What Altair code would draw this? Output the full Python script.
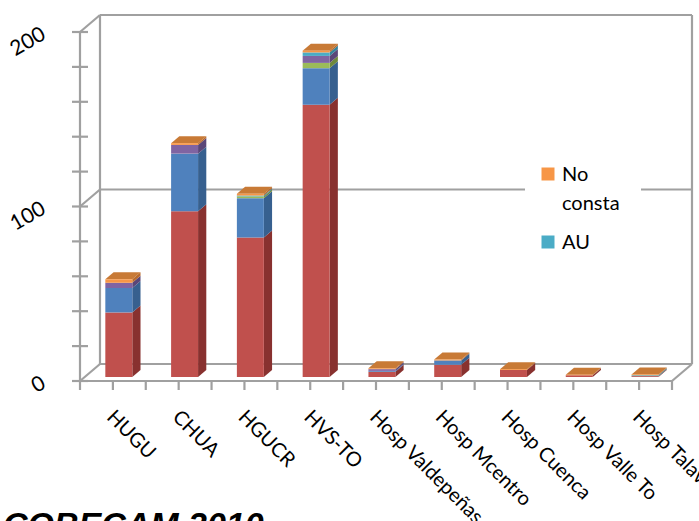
import altair as alt
import pandas as pd

# ---------------- data ----------------
categories = ["HUGU", "CHUA", "HGUCR", "HVS-TO", "Hosp Valdepeñas",
              "Hosp Mcentro", "Hosp Cuenca", "Hosp Valle To", "Hosp Talavera"]
series = ["Serie 1", "Serie 2", "Serie 3", "Serie 4", "AU", "No consta"]
serie1 = [37, 95, 80, 156, 3, 7, 4, 1, 0.5]
serie2 = [14, 33, 22.5, 21, 0.5, 2.5, 0, 0, 0]
serie3 = [0, 0, 1, 3, 0, 0, 0, 0, 0]
serie4 = [3, 5, 0, 4, 1, 0, 0, 0, 0]
au = [0, 0, 0.5, 2, 0, 0, 0, 0, 0.5]
no_consta = [2, 1, 1, 1, 0.5, 0.5, 0.5, 0.3, 0.5]
values = [serie1, serie2, serie3, serie4, au, no_consta]

y_tick_values = [0, 20, 40, 60, 80, 100, 120, 140, 160, 180, 200]
y_label_values = [0, 100, 200]
y_label_texts = ["0", "100", "200"]
grid_values = [0, 100, 200]
legend_labels = ["No\nconsta", "AU"]
title_text = "COBECAM 2010"

# ---------------- styles ----------------
front_colors = ["#C0504D", "#4F81BD", "#9BBB59", "#8064A2", "#4BACC6", "#F79646"]
side_colors = ["#88312F", "#37608F", "#6F8A3C", "#5A4678", "#34829A", "#B86A2C"]
top_colors = ["#A8423F", "#4470A8", "#86A44C", "#6E5590", "#3F98B0", "#C87A36"]
legend_colors = ["#F79646", "#4BACC6"]
LINE = "#A0A0A0"
LW = 2.2
FONT = "Lato"

X0, X1, X2 = 0.385, 0.795, 0.92   # bar front-left, front-right, back-right (category units)
DY = 4.0                          # depth of the top face (value units)
BX, BY = 20, -17                  # back wall offset in pixels

front_rows, side_rows, top_rows = [], [], []
for i, cat in enumerate(categories):
    base = 0.0
    top_k = 0
    for k, s in enumerate(series):
        v = values[k][i]
        if v <= 0:
            continue
        y0, y1 = base, base + v
        front_rows.append(dict(x=i + X0, x2=i + X1, y=y0, y2=y1, c=front_colors[k]))
        key = f"{i}-{k}"
        side_rows.append(dict(key=key, x=i + X1, lo=y0, hi=y1, c=side_colors[k]))
        side_rows.append(dict(key=key, x=i + X2, lo=y0 + DY, hi=y1 + DY, c=side_colors[k]))
        base = y1
        top_k = k
    top_rows.append(dict(key=str(i), y=base, xa=i + X0, xb=i + X1, c=top_colors[top_k]))
    top_rows.append(dict(key=str(i), y=base + DY, xa=i + X0 + (X2 - X1), xb=i + X2, c=top_colors[top_k]))

front_df = pd.DataFrame(front_rows)
side_df = pd.DataFrame(side_rows)
top_df = pd.DataFrame(top_rows)
grid_df = pd.DataFrame({"g": grid_values})
ytick_df = pd.DataFrame({"t": y_tick_values})
xtick_df = pd.DataFrame({"p": [j * 0.5 for j in range(2 * len(categories) + 1)]})
ylab_df = pd.DataFrame({"v": y_label_values, "t": y_label_texts})
xlab_df = pd.DataFrame({"p": [i + 0.5 for i in range(len(categories))], "t": categories})
one = pd.DataFrame({"a": [1]})

n = len(categories)
xs = alt.Scale(domain=[0, n], nice=False, zero=False)
ys = alt.Scale(domain=[0, 200], nice=False)

def rule(data, **kw):
    return alt.Chart(data).mark_rule(color=LINE, strokeWidth=LW, **kw)

layers = []

# back wall gridlines
layers.append(rule(grid_df, xOffset=BX, x2Offset=BX, yOffset=BY).encode(
    x=alt.datum(0), x2=alt.datum(n),
    y=alt.Y("g:Q", scale=ys, axis=None)))
# diagonals at left for gridlines
layers.append(rule(grid_df, x2Offset=BX, y2Offset=BY).encode(
    x=alt.datum(0), x2=alt.datum(0), y=alt.Y("g:Q", scale=ys, axis=None), y2="g:Q"))
# back left and right verticals
layers.append(rule(one, xOffset=BX, yOffset=BY, y2Offset=BY).encode(
    x=alt.datum(0), y=alt.datum(0), y2=alt.datum(200)))
layers.append(rule(one, xOffset=BX, yOffset=BY, y2Offset=BY).encode(
    x=alt.datum(n), y=alt.datum(0), y2=alt.datum(200)))
# right floor diagonal
layers.append(rule(one, x2Offset=BX, y2Offset=BY).encode(
    x=alt.datum(n), x2=alt.datum(n), y=alt.datum(0), y2=alt.datum(0)))

# bars: top faces, side faces, front faces
layers.append(alt.Chart(top_df).mark_area(orient="horizontal", yOffset=-4, opacity=1).encode(
    y=alt.Y("y:Q", scale=ys, axis=None), x=alt.X("xa:Q", scale=xs, axis=None), x2="xb:Q",
    detail="key:N", color=alt.Color("c:N", scale=None)))
layers.append(alt.Chart(side_df).mark_area(orient="vertical", yOffset=-4, y2Offset=-4, opacity=1).encode(
    x=alt.X("x:Q", scale=xs, axis=None), y=alt.Y("lo:Q", scale=ys, axis=None), y2="hi:Q",
    detail="key:N", color=alt.Color("c:N", scale=None)))
layers.append(alt.Chart(front_df).mark_rect(yOffset=-4, y2Offset=-4, strokeWidth=0).encode(
    x=alt.X("x:Q", scale=xs, axis=None), x2="x2:Q",
    y=alt.Y("y:Q", scale=ys, axis=None), y2="y2:Q",
    color=alt.Color("c:N", scale=None)))

# front axes
layers.append(rule(one).encode(x=alt.datum(0), y=alt.datum(0), y2=alt.datum(200)))
layers.append(rule(one).encode(x=alt.datum(0), x2=alt.datum(n), y=alt.datum(0)))
layers.append(rule(ytick_df, xOffset=-8, x2Offset=8).encode(
    x=alt.datum(0), x2=alt.datum(0), y=alt.Y("t:Q", scale=ys, axis=None)))
layers.append(rule(xtick_df, y2Offset=9).encode(
    x=alt.X("p:Q", scale=xs, axis=None), y=alt.datum(0), y2=alt.datum(0)))

# axis labels
layers.append(alt.Chart(ylab_df).mark_text(
    align="right", baseline="middle", angle=330, fontSize=21, font=FONT,
    color="black", xOffset=-36, yOffset=1).encode(
    x=alt.datum(0), y=alt.Y("v:Q", scale=ys, axis=None), text="t:N"))
layers.append(alt.Chart(xlab_df).mark_text(
    align="left", baseline="middle", angle=45, fontSize=20, font=FONT,
    color="black", xOffset=-3, yOffset=33).encode(
    x=alt.X("p:Q", scale=xs, axis=None), y=alt.datum(0), text="t:N"))

# legend (partly visible)
layers.append(alt.Chart(one).mark_rect(color="white").encode(
    x=alt.value(445), x2=alt.value(561), y=alt.value(118), y2=alt.value(232)))
legend_sq_y = [142, 210]
legend_tx_y = [149, 217]
for lab, col, sy, ty in zip(legend_labels, legend_colors, legend_sq_y, legend_tx_y):
    layers.append(alt.Chart(one).mark_square(size=169, color=col, opacity=1, filled=True).encode(
        x=alt.value(468), y=alt.value(sy)))
    layers.append(alt.Chart(one).mark_text(
        text=lab, lineBreak="\n", lineHeight=29, align="left", baseline="alphabetic",
        fontSize=20, font=FONT, color="black").encode(
        x=alt.value(482), y=alt.value(ty)))

# title (cut at bottom)
layers.append(alt.Chart(one).mark_text(
    text=title_text, font="Liberation Sans", fontSize=34, fontWeight="bold",
    fontStyle="italic", align="left", baseline="alphabetic", color="black").encode(
    x=alt.value(-77), y=alt.value(504)))

chart = alt.layer(*layers).properties(
    width=592, height=349,
    autosize=alt.AutoSizeParams(type="none"),
    padding={"left": 80, "top": 32, "right": 27, "bottom": 140},
    background="white",
).configure_view(strokeWidth=0).configure_axis(disable=True)

chart.save("out.html", embed_options={"renderer": "svg", "actions": False})
